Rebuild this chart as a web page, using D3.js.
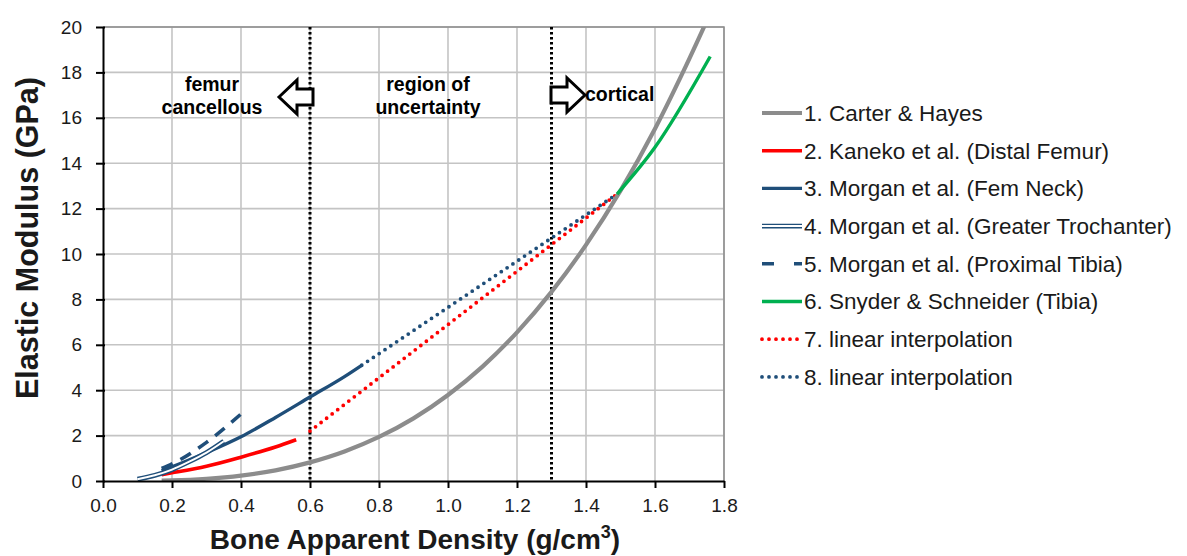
<!DOCTYPE html>
<html>
<head>
<meta charset="utf-8">
<script src="https://cdn.jsdelivr.net/npm/d3@7"></script>
<style>
  body { margin: 0; background: #fff; font-family: Arial, "Liberation Sans", sans-serif; }
</style>
</head>
<body>
<div id="chart"></div>
<script>
// values: [density g/cm3, modulus GPa]
var carterHayes = [[0.17,0.02],[0.2,0.03],[0.3,0.10],[0.4,0.24],[0.5,0.47],[0.6,0.82],[0.7,1.30],
  [0.8,1.94],[0.9,2.76],[1.0,3.79],[1.1,5.04],[1.2,6.55],[1.3,8.33],[1.4,10.40],[1.5,12.79],
  [1.6,15.52],[1.7,18.62],[1.76,20.6]];
var kaneko = [[0.17,0.28],[0.2,0.36],[0.3,0.65],[0.4,1.05],[0.5,1.5],[0.56,1.82]];
var morganNeck = [[0.17,0.45],[0.2,0.62],[0.3,1.25],[0.4,1.95],[0.5,2.8],[0.6,3.7],[0.7,4.6],[0.75,5.1]];
var morganTroch = [[0.10,0.08],[0.15,0.25],[0.2,0.5],[0.25,0.85],[0.3,1.25],[0.35,1.75]];
var morganTibia = [[0.17,0.55],[0.2,0.75],[0.3,1.7],[0.4,2.95]];
var snyder = [[1.49,12.64],[1.6,14.7],[1.76,18.7]];
var interpRed = [[0.6,2.2],[1.49,12.64]];
var interpBlue = [[0.75,5.1],[1.49,12.64]];

var xTicks = [0,0.2,0.4,0.6,0.8,1.0,1.2,1.4,1.6,1.8];
var yTicks = [0,2,4,6,8,10,12,14,16,18,20];
var regionLines = [0.6, 1.3];

var legendLabels = ["1. Carter & Hayes","2. Kaneko et al. (Distal Femur)","3. Morgan et al. (Fem Neck)",
  "4. Morgan et al. (Greater Trochanter)","5. Morgan et al. (Proximal Tibia)","6. Snyder & Schneider (Tibia)",
  "7. linear interpolation","8. linear interpolation"];

var gray = "#8c8c8c", red = "#ff0000", navy = "#1f4e79", green = "#00b050";

var series = [
  { data: carterHayes, color: gray, width: 4.2 },
  { data: kaneko, color: red, width: 3.6 },
  { data: morganNeck, color: navy, width: 3.4 },
  { data: morganTroch, color: navy, width: 4.8, dbl: true },
  { data: morganTibia, color: navy, width: 3.6, dash: "12,9" },
  { data: snyder, color: green, width: 3.4 },
  { data: interpRed, color: red, width: 3.8, dots: true },
  { data: interpBlue, color: navy, width: 3.8, dots: true }
];

var W = 1187, H = 556;
var margin = { top: 27, left: 103, right: 1187 - 724, bottom: 556 - 481 };
var width = W - margin.left - margin.right,
    height = H - margin.top - margin.bottom;

var svg = d3.select("#chart").append("svg")
    .attr("width", W)
    .attr("height", H);

var x = d3.scaleLinear().domain([0, 1.8]).range([0, width]);
var y = d3.scaleLinear().domain([0, 20]).range([height, 0]);

var g = svg.append("g").attr("transform", "translate(" + margin.left + "," + margin.top + ")");

svg.append("defs").append("clipPath").attr("id", "clip")
  .append("rect").attr("width", width).attr("height", height);

// gridlines
g.selectAll(".vgrid").data(xTicks.slice(1)).enter().append("line")
    .attr("x1", function(d) { return x(d); }).attr("x2", function(d) { return x(d); })
    .attr("y1", 0).attr("y2", height)
    .style("stroke", "#c4c4c4").style("stroke-width", 1.6);
g.selectAll(".hgrid").data(yTicks.slice(1)).enter().append("line")
    .attr("x1", 0).attr("x2", width)
    .attr("y1", function(d) { return y(d); }).attr("y2", function(d) { return y(d); })
    .style("stroke", "#c4c4c4").style("stroke-width", 1.6);

// plot border (top / right)
g.append("path")
    .attr("d", "M0,0H" + width + "V" + height)
    .style("fill", "none").style("stroke", "#8c8c8c").style("stroke-width", 1.5);

// region separators
g.selectAll(".region").data(regionLines).enter().append("line")
    .attr("x1", function(d) { return x(d); }).attr("x2", function(d) { return x(d); })
    .attr("y1", 0).attr("y2", height)
    .style("stroke", "#000").style("stroke-width", 3).style("stroke-dasharray", "2.5,2.5");

// series
var line = d3.line()
    .x(function(d) { return x(d[0]); })
    .y(function(d) { return y(d[1]); })
    .curve(d3.curveMonotoneX);

var plot = g.append("g").attr("clip-path", "url(#clip)");

function drawSeries(sel, s, gen) {
  var p = sel.append("path").attr("d", gen(s.data))
      .style("fill", "none").style("stroke", s.color)
      .style("stroke-width", s.width);
  if (s.dash) p.style("stroke-dasharray", s.dash);
  if (s.dots) p.style("stroke-dasharray", "0,7").style("stroke-linecap", "round");
  if (s.dbl) {
    sel.append("path").attr("d", gen(s.data))
      .style("fill", "none").style("stroke", "#fff").style("stroke-width", s.width - 2.8);
  }
}

// draw interpolations first, then measured curves
[6, 7, 0, 1, 2, 3, 4, 5].forEach(function(i) { drawSeries(plot, series[i], line); });

// axes
var xAxis = d3.axisBottom(x).tickValues(xTicks).tickFormat(d3.format(".1f")).tickSize(7).tickSizeOuter(0);
var yAxis = d3.axisLeft(y).tickValues(yTicks).tickFormat(d3.format("d")).tickSize(7).tickSizeOuter(0);

var gx = g.append("g").attr("transform", "translate(0," + height + ")").call(xAxis);
var gy = g.append("g").call(yAxis);

[gx, gy].forEach(function(a) {
  a.select(".domain").style("stroke", "#000").style("stroke-width", 2);
  a.selectAll(".tick line").style("stroke", "#000").style("stroke-width", 2);
  a.selectAll(".tick text").style("font-family", "Arial, 'Liberation Sans', sans-serif")
    .style("font-size", "19px").style("fill", "#1a1a1a");
});
gx.selectAll(".tick text").attr("dy", "1.1em");
gy.selectAll(".tick text").attr("x", -21);
// y ticks cross the axis
gy.selectAll(".tick line").attr("x1", 2).attr("x2", -7);

// axis titles
svg.append("text")
    .attr("x", 415).attr("y", 549)
    .attr("text-anchor", "middle")
    .style("font-size", "28px").style("font-weight", "bold").style("fill", "#1a1a1a")
    .html("Bone Apparent Density (g/cm<tspan dy='-11' font-size='18px'>3</tspan><tspan dy='11'>)</tspan>");

svg.append("text")
    .attr("transform", "translate(38," + (margin.top + height / 2 - 16) + ") rotate(-90)")
    .attr("text-anchor", "middle")
    .style("font-size", "30.5px").style("font-weight", "bold").style("fill", "#1a1a1a")
    .text("Elastic Modulus (GPa)");

// region annotations
function label(lines, cx, cy, anchor) {
  var t = svg.append("text").attr("text-anchor", anchor)
      .style("font-size", "19.5px").style("font-weight", "bold").style("fill", "#000");
  lines.forEach(function(s, i) {
    t.append("tspan").attr("x", cx).attr("y", cy + i * 23).text(s);
  });
}
label(["femur", "cancellous"], 212, 91, "middle");
label(["region of", "uncertainty"], 428, 91, "middle");
label(["cortical"], 585, 101, "start");

// block arrows (outline)
function arrow(x0, yc, dir) {
  var L = 34, hw = 17, sw = 8, head = 18;
  var pts;
  if (dir < 0) {
    pts = [[x0, yc], [x0 + head, yc - hw], [x0 + head, yc - sw], [x0 + L, yc - sw],
           [x0 + L, yc + sw], [x0 + head, yc + sw], [x0 + head, yc + hw]];
  } else {
    pts = [[x0 + L, yc], [x0 + L - head, yc - hw], [x0 + L - head, yc - sw], [x0, yc - sw],
           [x0, yc + sw], [x0 + L - head, yc + sw], [x0 + L - head, yc + hw]];
  }
  svg.append("polygon").attr("points", pts.map(function(p) { return p.join(","); }).join(" "))
      .style("fill", "#fff").style("stroke", "#000").style("stroke-width", 3)
      .style("stroke-linejoin", "miter");
}
arrow(279, 97, -1);
arrow(551, 95, 1);

// legend
var legend = svg.append("g").attr("transform", "translate(762,113)");
var item = legend.selectAll(".item").data(series).enter().append("g")
    .attr("transform", function(d, i) { return "translate(0," + (i * 37.7) + ")"; });

var legLine = d3.line().x(function(d) { return d[0]; }).y(function(d) { return d[1]; });
item.each(function(s) {
  var sel = d3.select(this);
  var seg = { data: [[0, 0], [40, 0]], color: s.color, width: s.width, dash: s.dash, dots: s.dots, dbl: s.dbl };
  if (s.dash) seg.dash = "12,20";
  drawSeries(sel, seg, legLine);
});
item.append("text")
    .attr("x", 42).attr("y", 0).attr("dy", "0.35em")
    .style("font-size", "22.5px").style("fill", "#1a1a1a")
    .text(function(d, i) { return legendLabels[i]; });
</script>
</body>
</html>
